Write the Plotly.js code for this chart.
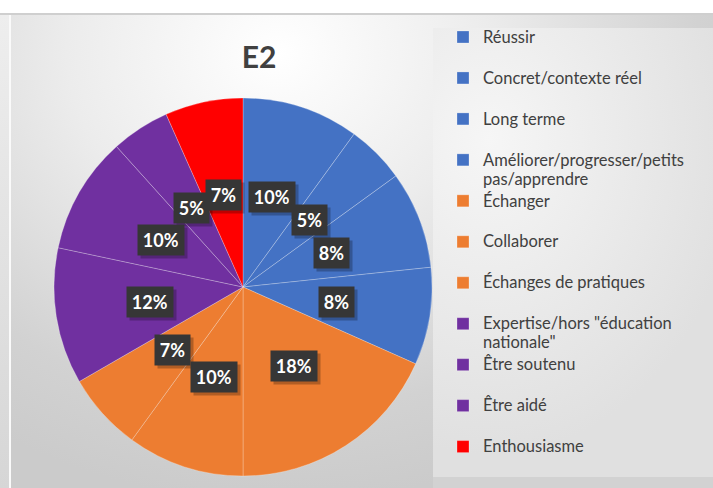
<!DOCTYPE html>
<html>
<head>
<meta charset="utf-8">
<script src="https://cdn.plot.ly/plotly-3.0.1.min.js"></script>
<style>
  html, body { margin:0; padding:0; width:713px; height:488px; overflow:hidden; background:#ffffff; }
  .layer { position:absolute; }
  #leftstrip { left:0; top:14px; width:9px; height:474px; background:linear-gradient(to bottom,#eeeeee,#d6d6d6); }
  #leftline { left:9px; top:14px; width:2px; height:474px; background:#fafafa; }
  #topline { left:0; top:13px; width:713px; height:2px; background:#cfcfcf; }
  #main { left:11px; top:15px; width:702px; height:473px;
          background:radial-gradient(ellipse 75% 95% at 38% 8%, #ffffff 0%, #ececec 40%, #d2d2d2 80%, #cbcbcb 100%); }
  #legpanel { left:433px; top:28px; width:280px; height:449px;
          background:radial-gradient(ellipse 90% 70% at 20% 25%, #f6f6f6 0%, #ebebeb 50%, #e0e0e0 100%); }
  #legbottom { left:433px; top:477px; width:280px; height:11px; background:#d2d2d2; }
  #chart { position:absolute; left:0; top:0; width:713px; height:488px; }
</style>
</head>
<body>
<div class="layer" id="leftstrip"></div>
<div class="layer" id="leftline"></div>
<div class="layer" id="topline"></div>
<div class="layer" id="main"></div>
<div class="layer" id="legpanel"></div>
<div class="layer" id="legbottom"></div>
<div id="chart"></div>
<script>
// ---- data ----
const categories = [
  "Réussir",
  "Concret/contexte réel",
  "Long terme",
  "Améliorer/progresser/petits<br>pas/apprendre",
  "Échanger",
  "Collaborer",
  "Échanges de pratiques",
  "Expertise/hors \"éducation<br>nationale\"",
  "Être soutenu",
  "Être aidé",
  "Enthousiasme"
];
const counts = [6, 3, 5, 5, 11, 6, 4, 7, 6, 3, 4];
const sliceColors = ["#4472C4","#4472C4","#4472C4","#4472C4",
                     "#ED7D31","#ED7D31","#ED7D31",
                     "#7030A0","#7030A0","#7030A0",
                     "#FF0000"];

// ---- geometry of the pie (pixels) ----
const W = 713, H = 488;
const pieLeft = 54, pieTop = 98, pieSize = 378;
const domX = [pieLeft / W, (pieLeft + pieSize) / W];
const domY = [1 - (pieTop + pieSize) / H, 1 - pieTop / H];
const cx = pieLeft + pieSize / 2, cy = pieTop + pieSize / 2, R = pieSize / 2;

const total = counts.reduce((a, b) => a + b, 0);
// legend labels: every item takes two lines, text drawn a bit larger than the spacing font
const legendLabels = categories.map(c => {
  const lines = c.split("<br>");
  if (lines.length < 2) lines.push(" ");
  return lines.map(l => '<span style="font-size:16.5px">' + l + '</span>').join("<br>");
});

const annotations = [];
const shadows = [];
let cum = 0;
counts.forEach((c, i) => {
  const mid = (cum + c / 2) / total * 2 * Math.PI;
  cum += c;
  const px = cx + 0.5 * R * Math.sin(mid);
  const py = cy - 0.5 * R * Math.cos(mid);
  const label = Math.round(c / total * 100) + "%";
  const bw = label.length * 10.5 + 4;
  const base = {
    xref: "paper", yref: "paper", x: px / W, y: 1 - py / H,
    xanchor: "center", yanchor: "middle", showarrow: false,
    borderpad: 5, width: bw, height: 20
  };
  shadows.push(Object.assign({}, base, {
    text: " ",
    bgcolor: "rgba(0,0,0,0.25)", xshift: 3, yshift: -3,
    font: {family: "Lato, Calibri, sans-serif", size: 18, color: "#000000"}
  }));
  annotations.push(Object.assign({}, base, {
    text: "<b>" + label + "</b>",
    bgcolor: "#363636",
    font: {family: "Lato, Calibri, sans-serif", size: 18, color: "#ffffff"}
  }));
});

const trace = {
  type: "pie",
  labels: legendLabels,
  values: counts,
  sort: false,
  direction: "clockwise",
  rotation: 0,
  textinfo: "none",
  hoverinfo: "label+percent",
  marker: { colors: sliceColors, line: { color: "rgba(255,255,255,0.25)", width: 1 } },
  domain: { x: domX, y: domY }
};

const layout = {
  width: W, height: H,
  margin: { l: 0, r: 0, t: 0, b: 0 },
  paper_bgcolor: "rgba(0,0,0,0)",
  plot_bgcolor: "rgba(0,0,0,0)",
  title: {
    text: "<b>E2</b>",
    x: 259 / W, xanchor: "center", xref: "paper",
    y: 1 - 57 / H, yanchor: "middle", yref: "paper",
    font: { family: "Lato, Calibri, sans-serif", size: 30, color: "#404040" }
  },
  showlegend: true,
  legend: {
    x: 443 / W, xanchor: "left",
    y: 1 - 21 / H, yanchor: "top",
    bgcolor: "rgba(0,0,0,0)",
    valign: "top",
    font: { family: "Lato, Calibri, sans-serif", size: 14.6, color: "#404040" },
    traceorder: "normal"
  },
  annotations: shadows.concat(annotations)
};

Plotly.newPlot("chart", [trace], layout, { displayModeBar: false, staticPlot: true });
</script>
</body>
</html>
